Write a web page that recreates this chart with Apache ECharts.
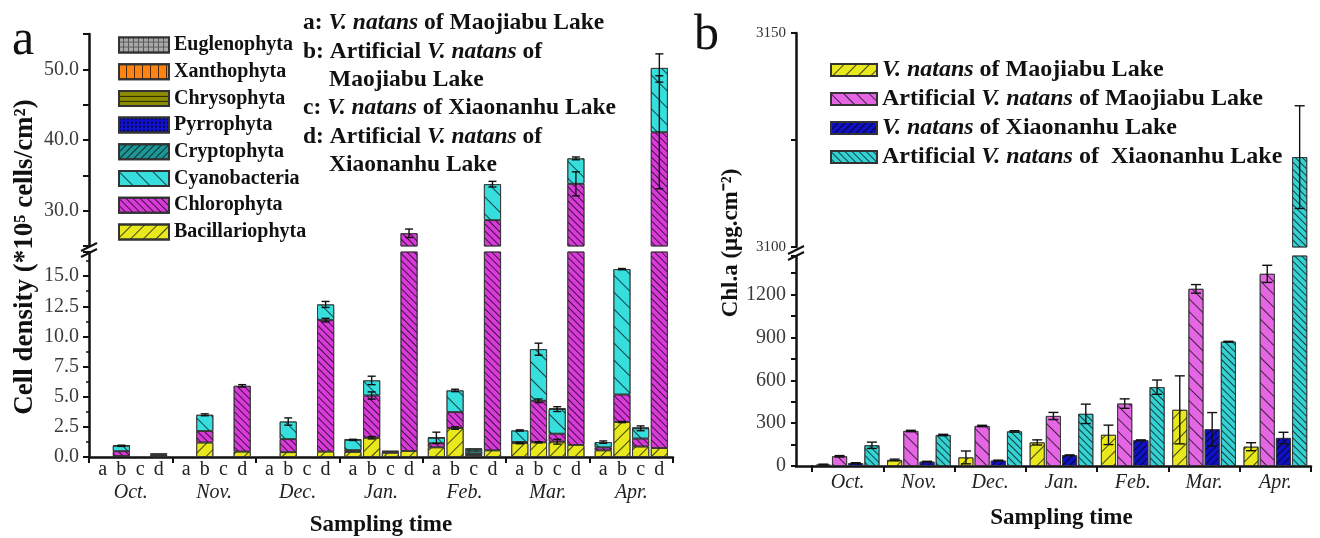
<!DOCTYPE html>
<html>
<head>
<meta charset="utf-8">
<script src="https://cdn.jsdelivr.net/npm/echarts@6/dist/echarts.min.js"></script>
<style>
  html, body { margin: 0; background: #fff; }
  #chart { width: 1320px; height: 538px; }
</style>
</head>
<body>
<div id="chart"></div>
<script>
// ---- data: panel a (cell density, *10^5 cells/cm2) ----
// each array: Oct a,b,c,d | Nov a,b,c,d | ... | Apr a,b,c,d
const months = ['Oct.', 'Nov.', 'Dec.', 'Jan.', 'Feb.', 'Mar.', 'Apr.'];
const groups = ['a', 'b', 'c', 'd'];

const bacillariophyta = [
  0, 0.08, 0, 0.05,
  0, 1.2, 0, 0.45,
  0, 0.4, 0, 0.45,
  0.42, 1.6, 0.35, 0.5,
  0.8, 2.4, 0.15, 0.55,
  1.15, 1.22, 1.27, 1.0,
  0.55, 2.9, 0.87, 0.74];
const chlorophyta = [
  0, 0.4, 0, 0.05,
  0, 0.95, 0, 5.45,
  0, 1.08, 0, 10.9,
  0.15, 3.5, 0.1, 26.3,
  0.34, 1.32, 0.1, 28.1,
  0.1, 3.44, 0.66, 32.8,
  0.25, 2.28, 0.66, 40.35];
const cyanobacteria = [
  0, 0.45, 0, 0.1,
  0, 1.35, 0, 0,
  0, 1.46, 0, 1.3,
  0.85, 1.25, 0, 0,
  0.45, 1.8, 0.2, 5.1,
  0.95, 4.28, 2.04, 3.6,
  0.43, 10.4, 0.85, 9.1];
const cryptophyta = [
  0, 0.04, 0, 0.1,
  0, 0, 0, 0,
  0, 0, 0, 0,
  0.05, 0, 0.05, 0,
  0.05, 0, 0.2, 0,
  0, 0, 0, 0,
  0, 0, 0, 0];
const pyrrophyta = [
  0, 0, 0, 0,
  0, 0, 0, 0,
  0, 0, 0, 0,
  0, 0, 0, 0,
  0, 0, 0.05, 0,
  0, 0, 0.05, 0,
  0, 0, 0.05, 0];
const chrysophyta = [
  0, 0, 0, 0,  0, 0, 0, 0,  0, 0, 0, 0,  0, 0, 0, 0,
  0, 0, 0, 0,  0, 0, 0, 0,  0, 0, 0, 0];
const xanthophyta = [
  0, 0, 0, 0,  0, 0, 0, 0,  0, 0, 0, 0,  0, 0, 0, 0,
  0, 0, 0, 0,  0, 0, 0, 0,  0, 0, 0, 0];
const euglenophyta = [
  0, 0, 0, 0,  0, 0, 0, 0,  0, 0, 0, 0,  0, 0, 0, 0,
  0, 0, 0, 0,  0, 0, 0, 0,  0, 0, 0, 0];

// error bars (half width) at the top of a segment
const errBac = [
  0, 0, 0, 0,
  0, 0, 0, 0,
  0, 0, 0, 0,
  0, 0.1, 0, 0,
  0, 0.1, 0, 0,
  0.05, 0.05, 0.2, 0,
  0, 0.05, 0, 0];
const errChl = [
  0, 0, 0, 0,
  0, 0, 0, 0.1,
  0, 0, 0, 0.15,
  0, 0.3, 0, 0.6,
  0, 0, 0, 0,
  0, 0.15, 0, 1.7,
  0, 0, 0, 8];
const errCya = [
  0, 0.05, 0, 0,
  0, 0.08, 0, 0,
  0, 0.3, 0, 0.25,
  0.05, 0.35, 0, 0,
  0.47, 0.1, 0, 0.4,
  0.05, 0.5, 0.2, 0.2,
  0.1, 0.05, 0.2, 2.0];

// ---- data: panel b (Chl.a, ug/cm2) ----
const chlNames = ['V. natans of Maojiabu Lake', 'Artificial V. natans of Maojiabu Lake',
  'V. natans of Xiaonanhu Lake', 'Artificial V. natans of  Xiaonanhu Lake'];
const chlMaojiabu = [10, 42, 60, 165, 218, 393, 135];
const chlArtMaojiabu = [68, 245, 280, 350, 437, 1240, 1345];
const chlXiaonanhu = [20, 30, 38, 75, 180, 257, 196];
const chlArtXiaonanhu = [145, 217, 242, 365, 552, 870, 3121];
const errMaojiabu = [3, 6, 45, 18, 68, 238, 28];
const errArtMaojiabu = [5, 5, 5, 25, 33, 30, 60];
const errXiaonanhu = [3, 3, 3, 3, 3, 117, 40];
const errArtXiaonanhu = [22, 5, 5, 68, 50, 3, 12];

const FONT = '"Liberation Serif", "Times New Roman", serif';
const INK = '#111';

function hatch(dir, gap) {
  return {
    symbol: 'rect', symbolSize: 1, color: 'rgba(0,0,0,0.7)',
    dashArrayX: [1, 0], dashArrayY: [1, gap], rotation: dir * Math.PI / 4
  };
}

// bottom -> top stacking order
const phyla = [
  { name: 'Bacillariophyta', values: bacillariophyta, err: errBac, color: '#e8e81c', decal: hatch(-1, 8) },
  { name: 'Chlorophyta', values: chlorophyta, err: errChl, color: '#d93ad9', decal: hatch(1, 4) },
  { name: 'Cyanobacteria', values: cyanobacteria, err: errCya, color: '#36dede', decal: hatch(1, 11) },
  { name: 'Cryptophyta', values: cryptophyta, err: null, color: '#1d9696', decal: hatch(-1, 4) },
  { name: 'Pyrrophyta', values: pyrrophyta, err: null, color: '#1212cc',
    decal: { symbol: 'rect', symbolSize: 1, color: 'rgba(0,0,0,0.6)', dashArrayX: [2, 2], dashArrayY: [2, 2] } },
  { name: 'Chrysophyta', values: chrysophyta, err: null, color: '#8c8c00', decal: hatch(0, 4) },
  { name: 'Xanthophyta', values: xanthophyta, err: null, color: '#ff8412', decal: hatch(2, 7) },
  { name: 'Euglenophyta', values: euglenophyta, err: null, color: '#5a5a5a',
    decal: { symbol: 'rect', symbolSize: 1, color: '#a8a8a8', dashArrayX: [4, 1], dashArrayY: [4, 1] } }
];

const chlSeries = [
  { values: chlMaojiabu, err: errMaojiabu, color: '#e8e81c', decal: hatch(-1, 8) },
  { values: chlArtMaojiabu, err: errArtMaojiabu, color: '#e466e4', decal: hatch(1, 8) },
  { values: chlXiaonanhu, err: errXiaonanhu, color: '#1010c4', decal: hatch(-1, 4) },
  { values: chlArtXiaonanhu, err: errArtXiaonanhu, color: '#34d2d2', decal: hatch(1, 4) }
];

function errorBars(slot, cap) {
  return function (params, api) {
    const cs = params.coordSys;
    const m = api.value(0), g = api.value(1), v = api.value(2), e = api.value(3);
    const hi = api.coord([m, v + e]);
    const lo = api.coord([m, v - e]);
    const x = hi[0] + (g - 1.5) * slot;
    const y0 = cs.y, y1 = cs.y + cs.height;
    const ya = Math.max(hi[1], y0), yb = Math.min(lo[1], y1);
    if (ya >= yb) return;
    const style = { stroke: INK, lineWidth: 1.4 };
    const kids = [{ type: 'line', shape: { x1: x, y1: ya, x2: x, y2: yb }, style: style }];
    if (hi[1] >= y0) kids.push({ type: 'line', shape: { x1: x - cap, y1: hi[1], x2: x + cap, y2: hi[1] }, style: style });
    if (lo[1] <= y1) kids.push({ type: 'line', shape: { x1: x - cap, y1: lo[1], x2: x + cap, y2: lo[1] }, style: style });
    return { type: 'group', children: kids };
  };
}

// error items for panel a: [month, group, segment top, err]
const errItemsA = [];
for (let i = 0; i < months.length * groups.length; i++) {
  let cum = 0;
  phyla.forEach(p => {
    cum += p.values[i];
    if (p.err && p.err[i] > 0) errItemsA.push([Math.floor(i / 4), i % 4, cum, p.err[i]]);
  });
}
const errItemsB = [];
chlSeries.forEach((s, k) => {
  s.values.forEach((v, m) => errItemsB.push([m, k, v, s.err[m]]));
});

const series = [];
[0, 1].forEach(gi => {
  groups.forEach((g, k) => {
    phyla.forEach(p => {
      series.push({
        type: 'bar', name: p.name, xAxisIndex: gi, yAxisIndex: gi,
        stack: 'a' + gi + g, barWidth: 17, barGap: '10%', clip: true,
        data: months.map((m, i) => {
          const v = p.values[i * 4 + k];
          return v > 0 ? v : '-';
        }),
        itemStyle: { color: p.color, borderColor: '#333', borderWidth: 0.8, decal: p.decal }
      });
    });
  });
  series.push({
    type: 'custom', xAxisIndex: gi, yAxisIndex: gi, z: 5, clip: true,
    renderItem: errorBars(18.7, 4), data: errItemsA, encode: { x: 0, y: 2 }
  });
});
[2, 3].forEach(gi => {
  chlSeries.forEach((s, k) => {
    series.push({
      type: 'bar', name: chlNames[k], xAxisIndex: gi, yAxisIndex: gi,
      barWidth: 15, barGap: '8%', clip: true, data: s.values,
      itemStyle: { color: s.color, borderColor: '#333', borderWidth: 0.8, decal: s.decal }
    });
  });
  series.push({
    type: 'custom', xAxisIndex: gi, yAxisIndex: gi, z: 5, clip: true,
    renderItem: errorBars(16.2, 5), data: errItemsB, encode: { x: 0, y: 2 }
  });
});

const axisLine = { show: true, lineStyle: { color: INK, width: 2.5 } };
const yLabel = { fontFamily: FONT, fontSize: 20, color: '#3a3a3a', margin: 10 };

const chart = echarts.init(document.getElementById('chart'));
chart.setOption({
  animation: false,
  backgroundColor: '#fff',
  grid: [
    { left: 89, right: 647, top: 252, bottom: 72 },
    { left: 89, right: 647, top: 34, height: 212 },
    { left: 812, right: 9, top: 256, bottom: 72 },
    { left: 812, right: 9, top: 33, height: 214 }
  ],
  xAxis: [
    {
      gridIndex: 0, type: 'category', data: months, axisLine: axisLine,
      axisTick: { show: true, length: 6, lineStyle: { color: INK, width: 2 } },
      axisLabel: {
        interval: 0, margin: 1,
        formatter: m => groups.map(g => '{l|' + g + '}').join('') + '\n{m|' + m + '}',
        rich: {
          l: { width: 18.7, align: 'center', fontFamily: FONT, fontSize: 20, color: '#222', lineHeight: 23 },
          m: { fontFamily: FONT, fontStyle: 'italic', fontSize: 20, color: '#222', lineHeight: 23 }
        }
      },
      name: 'Sampling time', nameLocation: 'middle', nameGap: 57,
      nameTextStyle: { fontFamily: FONT, fontWeight: 'bold', fontSize: 23, color: INK }
    },
    { gridIndex: 1, type: 'category', data: months, show: false },
    {
      gridIndex: 2, type: 'category', data: months, axisLine: axisLine,
      axisTick: { show: true, length: 6, lineStyle: { color: INK, width: 2 } },
      axisLabel: { interval: 0, margin: 7, fontFamily: FONT, fontStyle: 'italic', fontSize: 20, color: '#222' },
      name: 'Sampling time', nameLocation: 'middle', nameGap: 41,
      nameTextStyle: { fontFamily: FONT, fontWeight: 'bold', fontSize: 23, color: INK }
    },
    { gridIndex: 3, type: 'category', data: months, show: false }
  ],
  yAxis: [
    {
      gridIndex: 0, type: 'value', min: 0, max: 17, interval: 2.5,
      axisLine: axisLine, splitLine: { show: false },
      axisTick: { show: true, length: 6, lineStyle: { color: INK, width: 2 } },
      minorTick: { show: true, splitNumber: 2, length: 3, lineStyle: { color: INK, width: 1.5 } },
      axisLabel: Object.assign({ formatter: v => (v <= 15 ? v.toFixed(1) : '') }, yLabel)
    },
    {
      gridIndex: 1, type: 'value', min: 25, max: 55, interval: 5,
      axisLine: axisLine, splitLine: { show: false },
      axisTick: { show: true, length: 6, lineStyle: { color: INK, width: 2 } },
      axisLabel: Object.assign({ formatter: v => (v % 10 === 0 && v < 55 ? v.toFixed(1) : '') }, yLabel)
    },
    {
      gridIndex: 2, type: 'value', min: 0, max: 1470, interval: 150, offset: 16,
      axisLine: axisLine, splitLine: { show: false },
      axisTick: { show: true, length: 5, lineStyle: { color: INK, width: 2 } },
      axisLabel: Object.assign({ formatter: v => (v % 300 === 0 && v <= 1200 ? String(v) : '') }, yLabel)
    },
    {
      gridIndex: 3, type: 'value', min: 3100, max: 3150, interval: 25, offset: 16,
      axisLine: axisLine, splitLine: { show: false },
      axisTick: { show: true, length: 5, lineStyle: { color: INK, width: 2 } },
      axisLabel: { formatter: v => (v % 50 === 0 ? String(v) : ''), fontFamily: FONT, fontSize: 15, color: '#333', margin: 10 }
    }
  ],
  legend: [
    {
      left: 113, top: 30, orient: 'vertical', icon: 'rect',
      itemWidth: 50, itemHeight: 15, itemGap: 6.7,
      data: phyla.map(p => p.name).reverse(),
      textStyle: { fontFamily: FONT, fontWeight: 'bold', fontSize: 20, lineHeight: 20, color: INK }
    },
    {
      left: 825, top: 53, orient: 'vertical', icon: 'rect',
      itemWidth: 46, itemHeight: 12, itemGap: 5,
      data: chlNames,
      formatter: n => n.replace('V. natans', '{i|V. natans}'),
      textStyle: {
        fontFamily: FONT, fontWeight: 'bold', fontSize: 24, lineHeight: 24, color: INK,
        rich: { i: { fontFamily: FONT, fontWeight: 'bold', fontStyle: 'italic', fontSize: 24, lineHeight: 24, color: INK } }
      }
    }
  ],
  graphic: [
    { type: 'text', x: 12, y: 41, style: { text: 'a', fontFamily: FONT, fontSize: 50, fill: INK, verticalAlign: 'middle', textVerticalAlign: 'middle' } },
    { type: 'text', x: 694, y: 36, style: { text: 'b', fontFamily: FONT, fontSize: 50, fill: INK, verticalAlign: 'middle', textVerticalAlign: 'middle' } },
    // notes for a-d
    ...[
      [303, 23, 'a: {i|V. natans} of Maojiabu Lake'],
      [303, 52, 'b: Artificial {i|V. natans} of'],
      [329, 80, 'Maojiabu Lake'],
      [303, 108, 'c: {i|V. natans} of Xiaonanhu Lake'],
      [303, 137, 'd: Artificial {i|V. natans} of'],
      [329, 165, 'Xiaonanhu Lake']
    ].map(t => ({
      type: 'text', x: t[0], y: t[1],
      style: {
        text: t[2], fontFamily: FONT, fontWeight: 'bold', fontSize: 23.5, fill: INK,
        verticalAlign: 'middle', textVerticalAlign: 'middle',
        rich: { i: { fontFamily: FONT, fontWeight: 'bold', fontStyle: 'italic', fontSize: 23.5, fill: INK } }
      }
    })),
    {
      type: 'text', x: 25, y: 257, rotation: Math.PI / 2,
      style: {
        text: 'Cell density (*10\u2075 cells/cm\u00b2)', fontFamily: FONT, fontWeight: 'bold', fontSize: 27, fill: INK,
        align: 'center', verticalAlign: 'middle', textAlign: 'center', textVerticalAlign: 'middle'
      }
    },
    {
      type: 'text', x: 731, y: 243, rotation: Math.PI / 2,
      style: {
        text: 'Chl.a (\u03bcg.cm\u207b\u00b2)', fontFamily: FONT, fontWeight: 'bold', fontSize: 23, fill: INK,
        align: 'center', verticalAlign: 'middle', textAlign: 'center', textVerticalAlign: 'middle'
      }
    },
    // axis break marks
    { type: 'line', shape: { x1: 81, y1: 251, x2: 97, y2: 243 }, style: { stroke: INK, lineWidth: 2 } },
    { type: 'line', shape: { x1: 81, y1: 257, x2: 97, y2: 249 }, style: { stroke: INK, lineWidth: 2 } },
    { type: 'line', shape: { x1: 788, y1: 254, x2: 804, y2: 246 }, style: { stroke: INK, lineWidth: 2 } },
    { type: 'line', shape: { x1: 788, y1: 260, x2: 804, y2: 252 }, style: { stroke: INK, lineWidth: 2 } },
    // x axis of b continues to its y axis
    { type: 'line', shape: { x1: 795, y1: 466.5, x2: 813, y2: 466.5 }, style: { stroke: INK, lineWidth: 2.5 } }
  ],
  series: series
});
</script>
</body>
</html>
